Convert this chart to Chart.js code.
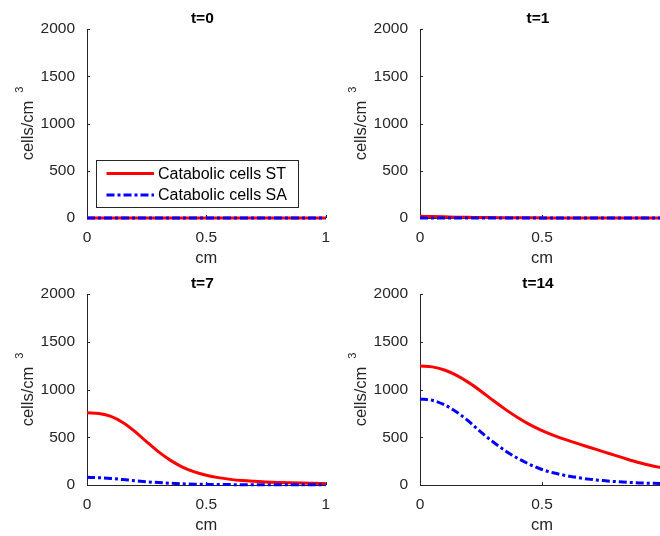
<!DOCTYPE html>
<html><head><meta charset="utf-8">
<script src="https://cdn.jsdelivr.net/npm/chart.js@4.4.1/dist/chart.umd.min.js"></script>
<style>
html,body{margin:0;padding:0;overflow:hidden;background:#fff;}
#wrap{position:relative;width:660px;height:536px;overflow:hidden;background:#fff;}
canvas{position:absolute;}
</style></head><body>
<div id="wrap">
<canvas id="c0" width="340" height="268" style="left:0;top:0"></canvas>
<canvas id="c1" width="347" height="268" style="left:333px;top:0"></canvas>
<canvas id="c2" width="340" height="268" style="left:0;top:268px"></canvas>
<canvas id="c3" width="347" height="268" style="left:333px;top:268px"></canvas>
</div>
<script>
// ---- data ----
const xPos = [0,0.05,0.1,0.15,0.2,0.25,0.3,0.35,0.4,0.45,0.5,0.55,0.6,0.65,0.7,0.75,0.8,0.85,0.9,0.95,1];
const titles = ['t=0','t=1','t=7','t=14'];
const yTickVals = [0,500,1000,1500,2000];
const xTickVals = [0,0.5,1];
const seriesNames = ['Catabolic cells ST','Catabolic cells SA'];

const st0 = [0,0,0,0,0,0,0,0,0,0,0,0,0,0,0,0,0,0,0,0,0];
const sa0 = [0,0,0,0,0,0,0,0,0,0,0,0,0,0,0,0,0,0,0,0,0];
const st1 = [18,15,12,9,7,5,4,3,2,2,1,1,1,1,1,1,1,1,1,1,1];
const sa1 = [1,1,1,0,0,0,0,0,0,0,0,0,0,0,0,0,0,0,0,0,0];
const st7 = [757,748,718,655,562,452,347,258,188,137,102,77,59,46,38,32,27,23,20,18,16];
const sa7 = [80,76,68,57,45,34,25,18,13,9,7,5,4,3,3,2,2,2,2,2,2];
const st14 = [1245,1237,1204,1148,1072,982,884,792,707,632,570,518,472,430,390,350,310,270,233,202,176];
const sa14 = [900,887,840,765,667,553,450,358,280,215,162,125,98,76,59,46,36,28,22,18,15];

const stSets = [st0, st1, st7, st14];
const saSets = [sa0, sa1, sa7, sa14];

// ---- styles ----
const FONT = '"Liberation Sans", Arial, Helvetica, sans-serif';
const AX = '#262626';
const RED = '#ff0000', BLUE = '#0000ff';
const LW = 3;
const DASH = [8,3,3,3];

const panels = [
  {id:'c0', pad:{left:0,right:9,top:29,bottom:0}, xH:50, legend:true},
  {id:'c1', pad:{left:0,right:16,top:29,bottom:0}, xH:50, legend:false},
  {id:'c2', pad:{left:0,right:9,top:26,bottom:0}, xH:51, legend:false},
  {id:'c3', pad:{left:0,right:16,top:26,bottom:0}, xH:51, legend:false}
];

const decor = {
  id:'decor',
  beforeDatasetsDraw(chart){
    const {ctx, chartArea:a, scales:{x,y}} = chart;
    ctx.save();
    ctx.strokeStyle = AX; ctx.lineWidth = 1;
    ctx.beginPath();
    y.ticks.forEach(t => { const py = Math.round(y.getPixelForValue(t.value))+0.5; ctx.moveTo(a.left, py); ctx.lineTo(a.left+3, py); });
    x.ticks.forEach(t => { const px = Math.round(x.getPixelForValue(t.value))+0.5; ctx.moveTo(px, a.bottom); ctx.lineTo(px, a.bottom-3); });
    ctx.stroke();
    ctx.restore();
  },
  afterDraw(chart, args, opts){
    const {ctx, chartArea:a} = chart;
    ctx.save();
    const cx = (a.left + a.right)/2;
    // title
    ctx.fillStyle = '#000';
    ctx.font = 'bold 15.5px ' + FONT;
    ctx.textAlign = 'center'; ctx.textBaseline = 'alphabetic';
    ctx.fillText(opts.title, cx - 4, a.top - 6.5);
    // x label
    ctx.fillStyle = AX;
    ctx.font = '16.5px ' + FONT;
    ctx.fillText('cm', cx, a.bottom + 45);
    // y label with superscript
    ctx.font = '16.5px ' + FONT;
    const w1 = ctx.measureText('cells/cm').width;
    ctx.font = '11px ' + FONT;
    const w3 = ctx.measureText('3').width;
    const gap = 8;
    const total = w1 + gap + w3;
    const cy = (a.top + a.bottom)/2;
    ctx.translate(a.left - 54, cy + total/2);
    ctx.rotate(-Math.PI/2);
    ctx.textAlign = 'left';
    ctx.font = '16.5px ' + FONT;
    ctx.fillText('cells/cm', 0, 0);
    ctx.font = '11px ' + FONT;
    ctx.fillText('3', w1 + gap, -10);
    ctx.restore();

    if (opts.legend) {
      ctx.save();
      const L = 96.5, T = 160.5, R = 298.5, B = 207.5;
      ctx.fillStyle = '#fff';
      ctx.fillRect(L, T, R-L, B-T);
      ctx.strokeStyle = AX; ctx.lineWidth = 1;
      ctx.strokeRect(L, T, R-L, B-T);
      const rows = [173.5, 195];
      const cols = [RED, BLUE];
      for (let i = 0; i < 2; i++) {
        ctx.beginPath();
        ctx.strokeStyle = cols[i]; ctx.lineWidth = LW;
        ctx.setLineDash(i === 1 ? DASH : []);
        ctx.moveTo(106.5, rows[i]); ctx.lineTo(154, rows[i]);
        ctx.stroke();
        ctx.setLineDash([]);
        ctx.fillStyle = '#000';
        ctx.font = '16px ' + FONT;
        ctx.textAlign = 'left'; ctx.textBaseline = 'middle';
        ctx.fillText(seriesNames[i], 158, rows[i] + 1);
      }
      ctx.restore();
    }
  }
};

panels.forEach((p, k) => {
  const st = stSets[k], sa = saSets[k];
  new Chart(document.getElementById(p.id), {
    type: 'line',
    data: {
      datasets: [
        {label: seriesNames[0], data: xPos.map((v,i)=>({x:v, y:st[i]})), borderColor: RED, borderWidth: LW,
         pointRadius: 0, cubicInterpolationMode: 'monotone', fill: false, order: 1, clip: 5},
        {label: seriesNames[1], data: xPos.map((v,i)=>({x:v, y:sa[i]})), borderColor: BLUE, borderWidth: LW,
         borderDash: DASH, pointRadius: 0, cubicInterpolationMode: 'monotone', fill: false, order: 0, clip: 5}
      ]
    },
    options: {
      responsive: false,
      animation: false,
      events: [],
      layout: {padding: p.pad},
      plugins: {
        legend: {display: false},
        tooltip: {enabled: false},
        title: {display: false},
        decor: {title: titles[k], legend: p.legend}
      },
      scales: {
        x: {
          type: 'linear', min: 0, max: 1,
          afterBuildTicks: s => { s.ticks = xTickVals.map(v => ({value: v})); },
          afterFit: s => { s.height = p.xH; },
          grid: {display: false, drawTicks: false},
          border: {display: true, color: AX, width: 1},
          ticks: {padding: 10, color: AX, font: {family: FONT, size: 15.5}, maxRotation: 0, autoSkip: false,
                  callback: v => String(v)}
        },
        y: {
          type: 'linear', min: 0, max: 2000,
          afterBuildTicks: s => { s.ticks = yTickVals.map(v => ({value: v})); },
          afterFit: s => { s.width = 87; },
          grid: {display: false, drawTicks: false},
          border: {display: true, color: AX, width: 1},
          ticks: {padding: 12, color: AX, font: {family: FONT, size: 15.5}, autoSkip: false,
                  callback: v => String(v)}
        }
      }
    },
    plugins: [decor]
  });
});
</script>
</body></html>
